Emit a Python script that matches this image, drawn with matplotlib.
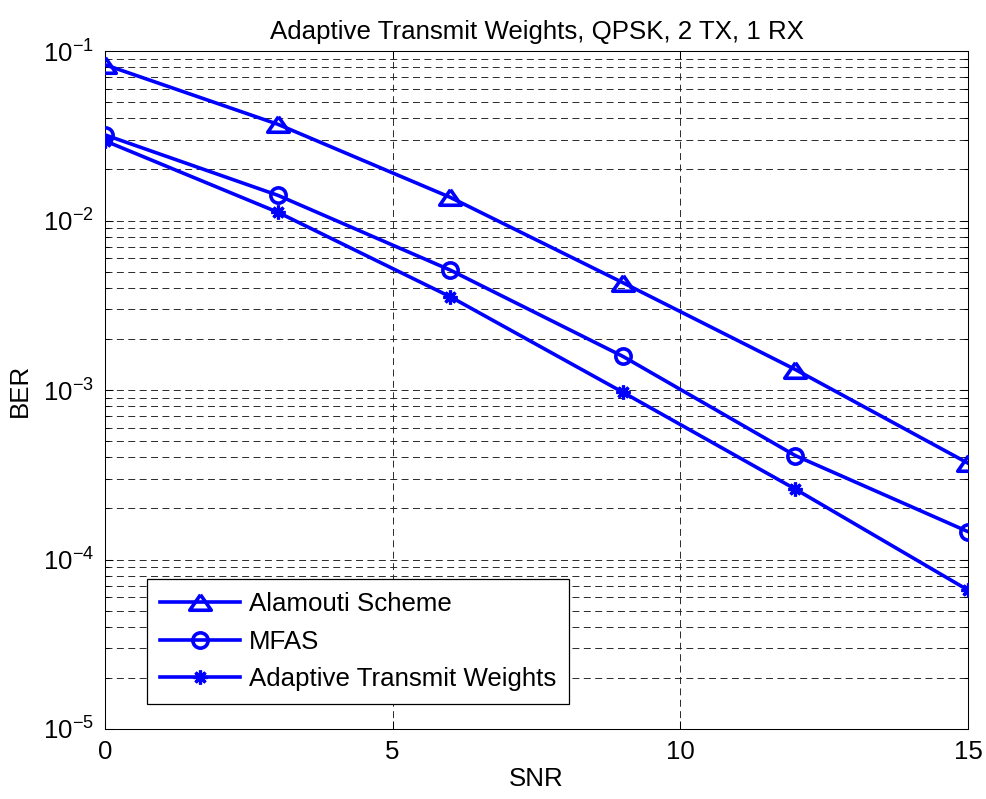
import matplotlib
matplotlib.use("Agg")
import matplotlib.pyplot as plt
from matplotlib.ticker import LogLocator, FixedLocator, NullLocator, NullFormatter

plt.rcParams['font.family'] = ['Liberation Sans', 'DejaVu Sans']
plt.rcParams['mathtext.default'] = 'regular'
plt.rcParams['lines.scale_dashes'] = False

# BER results for each scheme
snr = [0, 3, 6, 9, 12, 15]
ber_alamouti = [0.083, 0.037, 0.0137, 0.0043, 0.00132, 0.00037]
ber_mfas = [0.032, 0.0141, 0.0051, 0.00158, 0.00041, 0.000146]
ber_adaptive = [0.0295, 0.0112, 0.00355, 0.00097, 0.00026, 0.000066]

labels = ['Alamouti Scheme', 'MFAS', 'Adaptive Transmit Weights']
x_ticks = [0, 5, 10, 15]

W, H = 987, 799
fig = plt.figure(figsize=(W / 100, H / 100), dpi=100)
ax = fig.add_axes([105 / W, 1 - 729 / H, 863 / W, 678 / H])

blue = (0, 0, 1)
lw = 2.6
# wide, squat triangle outline
tri = [(0, 0.72), (-1, -0.72), (1, -0.72), (0, 0.72)]
ax.semilogy(snr, ber_alamouti, color=blue, lw=lw, marker=tri, ms=15.5,
            mfc='none', mec=blue, mew=lw, label=labels[0], zorder=3)
ax.semilogy(snr, ber_mfas, color=blue, lw=lw, marker='o', ms=11,
            mfc='none', mec=blue, mew=lw, label=labels[1], zorder=3)
ax.semilogy(snr, ber_adaptive, color=blue, lw=lw, marker=(8, 2, 0), ms=10,
            mfc=blue, mec=blue, mew=2.3, label=labels[2], zorder=3)

ax.set_xlim(0, 15)
ax.set_ylim(1e-5, 1e-1)
ax.xaxis.set_major_locator(FixedLocator(x_ticks))
ax.xaxis.set_minor_locator(NullLocator())
ax.yaxis.set_major_locator(LogLocator(base=10, numticks=10))
ax.yaxis.set_minor_locator(LogLocator(base=10, subs=range(2, 10), numticks=20))
ax.yaxis.set_minor_formatter(NullFormatter())

grid_kw = dict(color='#2a2a2a', lw=0.7, ls=(0, (5.0, 3.2)))
ax.grid(True, which='major', axis='both', **grid_kw)
ax.grid(True, which='minor', axis='y', **grid_kw)
ax.set_axisbelow(True)

fs = 18.6
ax.tick_params(which='both', direction='in', top=True, right=True,
               labelsize=fs, colors='black', width=0.75)
ax.tick_params(which='major', length=6, pad=8)
ax.tick_params(which='minor', length=3)
for s in ax.spines.values():
    s.set_linewidth(0.75)
    s.set_color('black')

ax.set_title('Adaptive Transmit Weights, QPSK, 2 TX, 1 RX', fontsize=fs, pad=9)
ax.set_xlabel('SNR', fontsize=fs, labelpad=2)
ax.set_ylabel('BER', fontsize=fs, labelpad=8)

leg = ax.legend(loc='upper left', bbox_to_anchor=(42 / 863, 150 / 678),
                borderaxespad=0, fontsize=fs, fancybox=False, framealpha=1,
                edgecolor='black', handlelength=3.1, handletextpad=0.36,
                borderpad=0.5, labelspacing=0.53)
leg.get_frame().set_linewidth(0.9)

fig.savefig('out.png', dpi=100)
